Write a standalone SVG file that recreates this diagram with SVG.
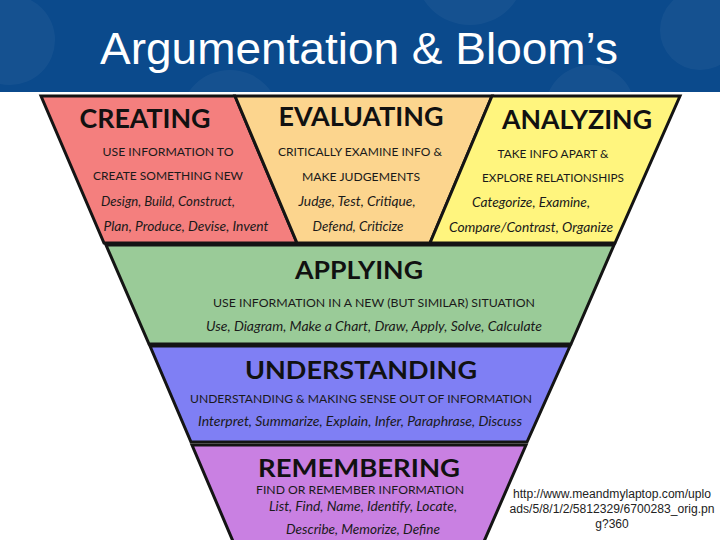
<svg xmlns="http://www.w3.org/2000/svg" width="720" height="540" viewBox="0 0 720 540">
<style>
.band{stroke:#141414;stroke-width:3;stroke-linejoin:miter}
.h{font-family:Lato,"Open Sans","Noto Sans",sans-serif;font-weight:700;fill:#111;text-anchor:middle}
.s{font-family:Lato,"Open Sans","Noto Sans",sans-serif;font-size:12px;fill:#1a1a1a;text-anchor:middle}
.i{font-family:Lato,"Open Sans","Noto Sans",sans-serif;font-size:12.5px;font-style:italic;fill:#1a1a1a;text-anchor:middle}
.f{font-family:"Liberation Sans",Arial,sans-serif;font-size:12px;fill:#222;text-anchor:middle}
</style>
<rect x="0" y="0" width="720" height="540" fill="#ffffff"/>
<g id="header">
<rect x="0" y="0" width="720" height="92" fill="#0B4A8C"/>
<g fill="#ffffff" opacity="0.04">
<circle cx="10" cy="40" r="45"/>
<circle cx="230" cy="120" r="50"/>
<circle cx="470" cy="-30" r="55"/>
<circle cx="700" cy="30" r="40"/>
<circle cx="590" cy="110" r="45"/>
</g>
<text x="359" y="64" font-family="'Liberation Sans',Arial,sans-serif" font-size="45" fill="#ffffff" text-anchor="middle" textLength="518" lengthAdjust="spacingAndGlyphs">Argumentation &amp; Bloom’s</text>
</g>
<g id="creating">
<polygon class="band" points="41,96 235,96 297,243 104,243" fill="#F47F7E"/>
<text class="h" x="145" y="128" font-size="26" textLength="131" lengthAdjust="spacingAndGlyphs">CREATING</text>
<text class="s" x="168" y="156" textLength="131" lengthAdjust="spacingAndGlyphs">USE INFORMATION TO</text>
<text class="s" x="168" y="180" textLength="150" lengthAdjust="spacingAndGlyphs">CREATE SOMETHING NEW</text>
<text class="i" x="168" y="206" textLength="134" lengthAdjust="spacingAndGlyphs">Design, Build, Construct,</text>
<text class="i" x="186" y="231" textLength="165" lengthAdjust="spacingAndGlyphs">Plan, Produce, Devise, Invent</text>
</g>
<g id="evaluating">
<polygon class="band" points="235,96 492,96 430,243 297,243" fill="#FCD58E"/>
<text class="h" x="361" y="126" font-size="26" textLength="165" lengthAdjust="spacingAndGlyphs">EVALUATING</text>
<text class="s" x="360" y="156" textLength="164" lengthAdjust="spacingAndGlyphs">CRITICALLY EXAMINE INFO &amp;</text>
<text class="s" x="361" y="181" textLength="118" lengthAdjust="spacingAndGlyphs">MAKE JUDGEMENTS</text>
<text class="i" x="357" y="206" textLength="117" lengthAdjust="spacingAndGlyphs">Judge, Test, Critique,</text>
<text class="i" x="358" y="231" textLength="91" lengthAdjust="spacingAndGlyphs">Defend, Criticize</text>
</g>
<g id="analyzing">
<polygon class="band" points="492,96 680,96 615,243 430,243" fill="#FFF57E"/>
<text class="h" x="577" y="129" font-size="26" textLength="150" lengthAdjust="spacingAndGlyphs">ANALYZING</text>
<text class="s" x="553" y="158" textLength="111" lengthAdjust="spacingAndGlyphs">TAKE INFO APART &amp;</text>
<text class="s" x="553" y="182" textLength="142" lengthAdjust="spacingAndGlyphs">EXPLORE RELATIONSHIPS</text>
<text class="i" x="531" y="207" textLength="118" lengthAdjust="spacingAndGlyphs">Categorize, Examine,</text>
<text class="i" x="531" y="232" textLength="164" lengthAdjust="spacingAndGlyphs">Compare/Contrast, Organize</text>
</g>
<g id="applying">
<polygon class="band" points="106,245 614,245 571,344 149,344" fill="#9ACB98"/>
<text class="h" x="359" y="279" font-size="24" textLength="128" lengthAdjust="spacingAndGlyphs">APPLYING</text>
<text class="s" x="374" y="307" textLength="322" lengthAdjust="spacingAndGlyphs">USE INFORMATION IN A NEW (BUT SIMILAR) SITUATION</text>
<text class="i" x="374" y="331" textLength="336" lengthAdjust="spacingAndGlyphs">Use, Diagram, Make a Chart, Draw, Apply, Solve, Calculate</text>
</g>
<g id="understanding">
<polygon class="band" points="150,346 570,346 527,442 191,442" fill="#7F7FF4"/>
<text class="h" x="361" y="379" font-size="24" textLength="232" lengthAdjust="spacingAndGlyphs">UNDERSTANDING</text>
<text class="s" x="361" y="403" textLength="342" lengthAdjust="spacingAndGlyphs">UNDERSTANDING &amp; MAKING SENSE OUT OF INFORMATION</text>
<text class="i" x="360" y="426" textLength="324" lengthAdjust="spacingAndGlyphs">Interpret, Summarize, Explain, Infer, Paraphrase, Discuss</text>
</g>
<g id="remembering">
<polygon class="band" points="192,445 526,445 482,546 235,546" fill="#C980E2"/>
<text class="h" x="359" y="477" font-size="24" textLength="202" lengthAdjust="spacingAndGlyphs">REMEMBERING</text>
<text class="s" x="360" y="494" textLength="208" lengthAdjust="spacingAndGlyphs">FIND OR REMEMBER INFORMATION</text>
<text class="i" x="363" y="511" textLength="188" lengthAdjust="spacingAndGlyphs">List, Find, Name, Identify, Locate,</text>
<text class="i" x="363" y="534" textLength="154" lengthAdjust="spacingAndGlyphs">Describe, Memorize, Define</text>
</g>
<g id="connectors"></g>
<g id="source">
<text class="f" x="612" y="498" textLength="198" lengthAdjust="spacingAndGlyphs">http://www.meandmylaptop.com/uplo</text>
<text class="f" x="612" y="513" textLength="205" lengthAdjust="spacingAndGlyphs">ads/5/8/1/2/5812329/6700283_orig.pn</text>
<text class="f" x="612" y="528">g?360</text>
</g>
</svg>
